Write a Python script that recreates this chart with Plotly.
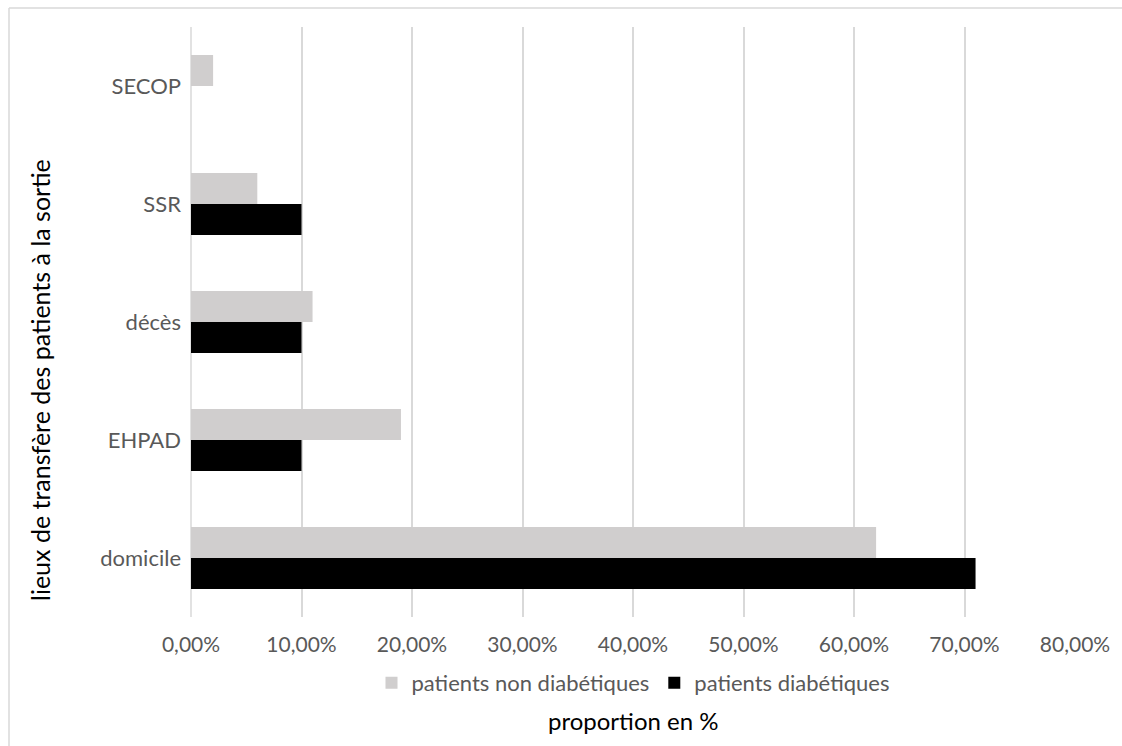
import plotly.graph_objects as go

categories = ["domicile", "EHPAD", "décès", "SSR", "SECOP"]
non_diabetiques = [62, 19, 11, 6, 2]
diabetiques = [71, 10, 10, 10, None]
tick_vals = [0, 10, 20, 30, 40, 50, 60, 70, 80]
tick_text = ["0,00%", "10,00%", "20,00%", "30,00%", "40,00%", "50,00%", "60,00%", "70,00%", "80,00%"]

FONT = "Lato"
W, H = 1122, 746
L, R, T, B = 191, 47, 27, 129

fig = go.Figure()
fig.add_trace(go.Bar(y=categories, x=diabetiques, orientation="h", name="patients diabétiques",
                     marker=dict(color="#000000", line=dict(width=0)), legendrank=2))
fig.add_trace(go.Bar(y=categories, x=non_diabetiques, orientation="h", name="patients non diabétiques",
                     marker=dict(color="#D0CECE", line=dict(width=0)), legendrank=1))

pw = W - L - R
ph = H - T - B
def px_x(p):
    return (p - L) / pw
def px_y(p):
    return (H - B - p) / ph

fig.update_layout(
    width=W, height=H,
    margin=dict(l=L, r=R, t=T, b=B, pad=0),
    paper_bgcolor="white", plot_bgcolor="white",
    barmode="group", bargap=0.475, bargroupgap=0,
    font=dict(family=FONT, size=21, color="#595959"),
    showlegend=True,
    legend=dict(orientation="h", x=0.5, xanchor="center", y=px_y(683), yanchor="middle",
                font=dict(family=FONT, size=22, color="#595959"), itemwidth=30,
                bgcolor="rgba(0,0,0,0)", traceorder="normal"),
    xaxis=dict(range=[0, 80], tickvals=tick_vals, ticktext=tick_text, showgrid=True,
               gridcolor="#D9D9D9", gridwidth=1.5, zeroline=False, showline=False,
               ticks="", ticklabelstandoff=13, tickfont=dict(size=21, color="#595959"),
               fixedrange=True),
    yaxis=dict(showgrid=False, zeroline=False, showline=False, ticks="",
               ticklabelstandoff=9, tickfont=dict(size=22, color="#595959"),
               range=[-0.5, 4.5]),
    annotations=[
        dict(text="proportion en %", xref="paper", yref="paper", x=0.5, y=px_y(721),
             xanchor="center", yanchor="middle", showarrow=False,
             font=dict(family=FONT, size=24, color="#000000")),
        dict(text="lieux de transfère des patients à la sortie", xref="paper", yref="paper",
             x=px_x(40), y=px_y(380), xanchor="center", yanchor="middle", textangle=-90,
             showarrow=False, font=dict(family=FONT, size=25, color="#000000")),
    ],
    shapes=[
        dict(type="line", xref="paper", yref="paper", x0=0, x1=0, y0=0, y1=1,
             line=dict(color="#D9D9D9", width=1.5), layer="below"),
        dict(type="line", xref="paper", yref="paper", x0=px_x(9), x1=px_x(9), y0=px_y(8), y1=px_y(760),
             line=dict(color="#D9D9D9", width=1.5)),
        dict(type="line", xref="paper", yref="paper", x0=px_x(9), x1=px_x(1130), y0=px_y(8), y1=px_y(8),
             line=dict(color="#D9D9D9", width=1.5)),
    ],
)

fig.write_html("out.html", config={"displayModeBar": False},
               post_script="document.body.style.margin='0';document.body.style.overflow='hidden';")
